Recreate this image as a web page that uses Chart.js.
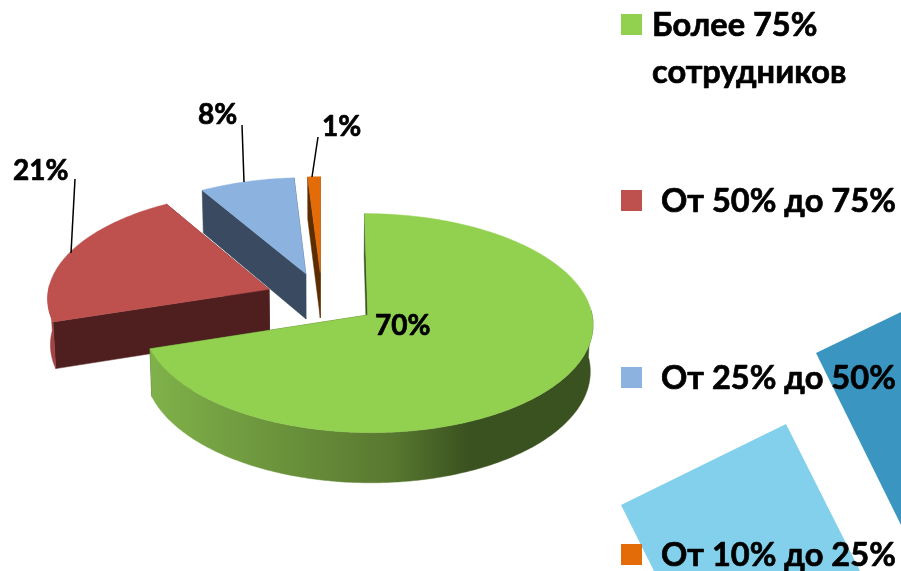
<!DOCTYPE html>
<html><head><meta charset="utf-8">
<script src="https://cdn.jsdelivr.net/npm/chart.js@4/dist/chart.umd.min.js"></script>
<style>
html,body{margin:0;padding:0;background:#fff;width:901px;height:571px;overflow:hidden}
#wrap{position:relative;width:901px;height:571px}
.deco{position:absolute;left:0;top:0;width:901px;height:571px}
#d1{background:#3a96c0;clip-path:polygon(901px 312px,816px 353px,901px 525px)}
#d2{background:#82d0ec;clip-path:polygon(621px 505px,786px 424px,860px 571px,654px 571px)}
canvas{position:absolute;left:0;top:0}
</style></head><body>
<div id="wrap"><div class="deco" id="d1"></div><div class="deco" id="d2"></div><canvas id="c" width="901" height="571"></canvas></div>
<script>
const categories = ['Более 75% сотрудников','От 50% до 75%','От 25% до 50%','От 10% до 25%'];
const values = [70.1,21.4,7.5,1];
const dataLabels = ['70%','21%','8%','1%'];
const topColors = ['#92d050','#be504e','#8cb2e0','#e36c09'];
const wallColors = ['#3a5220','#4f1f1f','#3a4a60','#5c2d00'];
const rimColors = ['#3a5220','#a04342','#6f8db3','#b25507'];
const explode = [56,57,56,56];

const TILT = 0.48, PERSP = 0.0727, DEPTH = 46, RAD = 222, SHRINK = 0.99;

function proj(a, px, py, bottom){
  const Y = py / RAD, s = 1 / (1 - PERSP * Y);
  let x = a.x + px * s, y = a.y + py * TILT * s;
  if (bottom){ y += DEPTH * s; x = a.x + (x - a.x) * SHRINK; }
  return [x, y];
}
function slicePoints(a, bottom){
  const off = a.options.offset, mid = (a.startAngle + a.endAngle) / 2;
  const ox = Math.cos(mid) * off, oy = Math.sin(mid) * off, r = a.outerRadius;
  const rim = [], front = [], n = Math.max(3, Math.ceil((a.endAngle - a.startAngle) * 60));
  for (let i = 0; i <= n; i++){
    const t = a.startAngle + (a.endAngle - a.startAngle) * i / n;
    const p = proj(a, ox + Math.cos(t) * r, oy + Math.sin(t) * r, bottom);
    rim.push(p);
    if (Math.sin(t) >= -0.05) front.push(p);
  }
  return {apex: proj(a, ox, oy, bottom), rim, front};
}
function fillPoly(ctx, pts, fill){
  ctx.beginPath();
  pts.forEach((p, i) => i ? ctx.lineTo(p[0], p[1]) : ctx.moveTo(p[0], p[1]));
  ctx.closePath();
  ctx.fillStyle = fill; ctx.strokeStyle = fill; ctx.lineWidth = 0.5;
  ctx.fill(); ctx.stroke();
}
function boldText(ctx, s, x, y){
  ctx.lineWidth = 0.7; ctx.strokeStyle = '#000'; ctx.lineJoin = 'round';
  ctx.strokeText(s, x, y); ctx.fillText(s, x, y);
}
const pie3d = {
  id: 'pie3d',
  beforeDatasetsDraw(chart){
    const ctx = chart.ctx, arcs = chart.getDatasetMeta(0).data;
    [3, 2, 1, 0].forEach(i => {
      const a = arcs[i], top = slicePoints(a, false), bot = slicePoints(a, true);
      fillPoly(ctx, [top.apex, top.rim[0], bot.rim[0], bot.apex], wallColors[i]);
      fillPoly(ctx, [top.apex, top.rim[top.rim.length-1], bot.rim[bot.rim.length-1], bot.apex], wallColors[i]);
      if (top.front.length > 1){
        let wall = rimColors[i];
        if (i === 0){
          wall = ctx.createLinearGradient(148, 0, 593, 0);
          wall.addColorStop(0, '#80b24a');
          wall.addColorStop(0.55, '#58782f');
          wall.addColorStop(0.72, '#3a5220');
          wall.addColorStop(1, '#3a5220');
        }
        fillPoly(ctx, top.front.concat(bot.front.slice().reverse()), wall);
      }
      fillPoly(ctx, [top.apex].concat(top.rim), a.options.backgroundColor);
    });
    return false;
  },
  afterDraw(chart){
    const ctx = chart.ctx;
    ctx.save();
    ctx.strokeStyle = '#000'; ctx.lineWidth = 1.5;
    [[75,179,71,253],[242,125,244,182],[318,137,312,177]].forEach(l => {
      ctx.beginPath(); ctx.moveTo(l[0], l[1]); ctx.lineTo(l[2], l[3]); ctx.stroke();
    });
    ctx.fillStyle = '#000'; ctx.textBaseline = 'middle'; ctx.textAlign = 'left';
    ctx.font = 'bold 28px Lato, "Open Sans", sans-serif';
    [[375,326],[13,171],[198,115],[322,127]].forEach((p, i) => boldText(ctx, dataLabels[i], p[0], p[1]));
    ctx.font = 'bold 32.6px Lato, "Open Sans", sans-serif';
    const swatchY = [14,190,367,544];
    const textPos = [[652,25],[661,201],[661,378],[661,555]];
    categories.forEach((c, i) => {
      ctx.fillStyle = topColors[i];
      ctx.fillRect(621, swatchY[i], 21, 21);
      ctx.fillStyle = '#000';
      if (i === 0){
        boldText(ctx, 'Более 75%', textPos[i][0], textPos[i][1]);
        boldText(ctx, 'сотрудников', textPos[i][0], textPos[i][1] + 47);
      } else {
        boldText(ctx, c, textPos[i][0], textPos[i][1]);
      }
    });
    ctx.restore();
  }
};
new Chart(document.getElementById('c'), {
  type: 'pie',
  data: {labels: categories, datasets: [{data: values, backgroundColor: topColors, borderWidth: 0, offset: explode}]},
  options: {
    responsive: false, animation: false, radius: RAD,
    layout: {padding: {left: 0, right: 257, top: 27, bottom: 0}},
    plugins: {legend: {display: false}, tooltip: {enabled: false}}
  },
  plugins: [pie3d]
});
</script>
</body></html>
